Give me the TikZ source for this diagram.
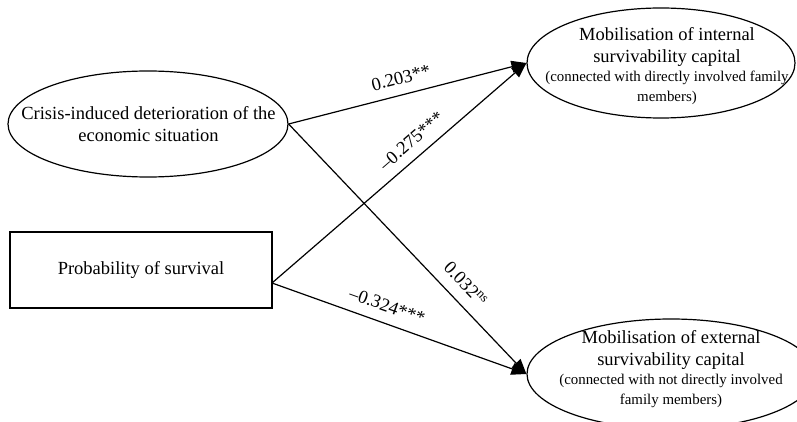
\documentclass[tikz,border=0pt]{standalone}
\usepackage{fontspec}
\setmainfont{Liberation Serif}
\usetikzlibrary{arrows.meta,shapes.geometric}
\newcommand{\smallnote}{\fontsize{14.9}{18}\selectfont}
\begin{document}
\begin{tikzpicture}[x=1pt,y=-1pt,
  ell/.style={draw,ellipse,line width=1.2pt,inner sep=0pt},
  txt/.style={anchor=base,inner sep=0pt,font=\fontsize{18.5}{22}\selectfont},
  arr/.style={line width=1.2pt,-{Triangle[length=15pt,width=12pt]}},
  lab/.style={sloped,inner sep=0pt,font=\fontsize{18.5}{22}\selectfont}]
\clip (0,0) rectangle (797,422);
\useasboundingbox (0,0) rectangle (797,422);

\node[ell,minimum width=280pt,minimum height=106pt] (crisis) at (148,124) {};
\node[txt] (crisisT) at (148.5,120) {\begin{tabular}[t]{@{}c@{}}Crisis-induced deterioration of the\\ economic situation\end{tabular}};

\node[draw,line width=1.2pt,minimum width=262pt,minimum height=76pt,inner sep=0pt,
      font=\fontsize{18.5}{22}\selectfont] (prob) at (141,270) {Probability of survival};
\coordinate (ps) at (272,283);

\node[ell,minimum width=268pt,minimum height=110pt] (internal) at (661,63) {};
\node[txt] (internalT) at (667,41) {\begin{tabular}[t]{@{}c@{}}Mobilisation of internal\\ survivability capital\\[-3pt]
  \smallnote (connected with directly involved family\\[-2pt] \smallnote members)\end{tabular}};

\node[ell,minimum width=288pt,minimum height=110pt] (external) at (671,374) {};
\node[txt] (externalT) at (671,343) {\begin{tabular}[t]{@{}c@{}}Mobilisation of external\\ survivability capital\\[-3pt]
  \smallnote (connected with not directly involved\\[-2pt] \smallnote family members)\end{tabular}};

\draw[arr] (crisis.east) -- (internal.west) node[lab,pos=.49,above=10pt] (l1) {0.203**};
\draw[arr] (ps) -- (internal.west) node[lab,pos=.59,above=9.5pt] (l2) {–0.275***};
\draw[arr] (crisis.east) -- (external.west) node[lab,pos=.69,above=11pt] (l3) {0.032\textsuperscript{ns}};
\draw[arr] (ps) -- (external.west) node[lab,pos=.43,above=10.5pt] (l4) {–0.324***};
\end{tikzpicture}
\end{document}
